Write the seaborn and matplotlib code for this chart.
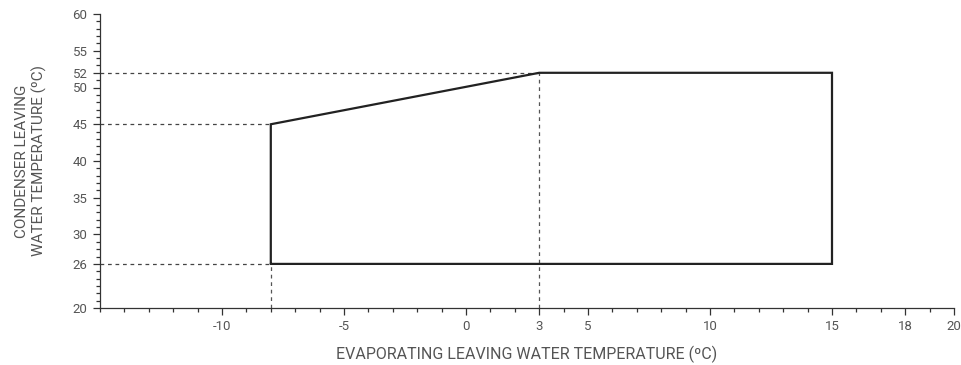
import matplotlib
matplotlib.use("Agg")
import matplotlib.pyplot as plt
import seaborn as sns
import pandas as pd
from matplotlib.ticker import MultipleLocator, FixedLocator

# Envelope polygon (evaporator leaving temp, condenser leaving temp)
env_x = [-8, -8, 3, 15, 15, -8]
env_y = [26, 45, 52, 52, 26, 26]

# Reference dashed guide lines
h_guides_y = [52, 45, 26]
h_guides_xend = [3, -8, -8]
v_guides_x = [-8, 3]
v_guides_yend = [26, 52]

x_ticks = [-10, -5, 0, 3, 5, 10, 15, 18, 20]
y_ticks = [20, 26, 30, 35, 40, 45, 50, 52, 55, 60]
x_range = [-15, 20]
y_range = [20, 60]

sns.set_theme(style="white")
plt.rcParams['font.family'] = ['Roboto', 'DejaVu Sans']
plt.rcParams['axes.unicode_minus'] = False

fig = plt.figure(figsize=(9.62, 3.65), dpi=100)
ax = fig.add_axes([100/962, 1-308/365, 854/962, 294/365])

grey = "#555555"
for y, xe in zip(h_guides_y, h_guides_xend):
    g = pd.DataFrame({"x": [x_range[0], xe], "y": [y, y]})
    sns.lineplot(data=g, x="x", y="y", ax=ax, color="#444444", lw=0.9,
                 linestyle=(0, (3, 3)), sort=False)
for x, ye in zip(v_guides_x, v_guides_yend):
    g = pd.DataFrame({"x": [x, x], "y": [y_range[0], ye]})
    sns.lineplot(data=g, x="x", y="y", ax=ax, color="#555555", lw=0.9,
                 linestyle=(0, (3, 3)), sort=False, orient="y")

env = pd.DataFrame({"x": env_x, "y": env_y})
ax.plot(env["x"], env["y"], color="#222222", lw=1.6, solid_joinstyle="miter")

ax.set_xlim(*x_range)
ax.set_ylim(*y_range)
ax.xaxis.set_major_locator(FixedLocator(x_ticks))
ax.yaxis.set_major_locator(FixedLocator(y_ticks))
ax.xaxis.set_minor_locator(MultipleLocator(1))
ax.yaxis.set_minor_locator(MultipleLocator(1))
ax.tick_params(axis="both", which="major", direction="out", length=5, width=0.9,
               color="#333333", labelcolor=grey, labelsize=9.5, pad=4,
               bottom=True, left=True)
ax.tick_params(axis="both", which="minor", direction="out", length=3.2, width=0.9,
               color="#333333", bottom=True, left=True)

for s in ["top", "right"]:
    ax.spines[s].set_visible(False)
for s in ["left", "bottom"]:
    ax.spines[s].set_color("#333333")
    ax.spines[s].set_linewidth(0.9)

ax.set_xlabel("EVAPORATING LEAVING WATER TEMPERATURE (ºC)", color=grey, fontsize=11.5, labelpad=9)
ax.set_ylabel("CONDENSER LEAVING\nWATER TEMPERATURE (ºC)", color=grey, fontsize=11,
              labelpad=18, linespacing=1.3)

fig.savefig("out.png", dpi=100)
